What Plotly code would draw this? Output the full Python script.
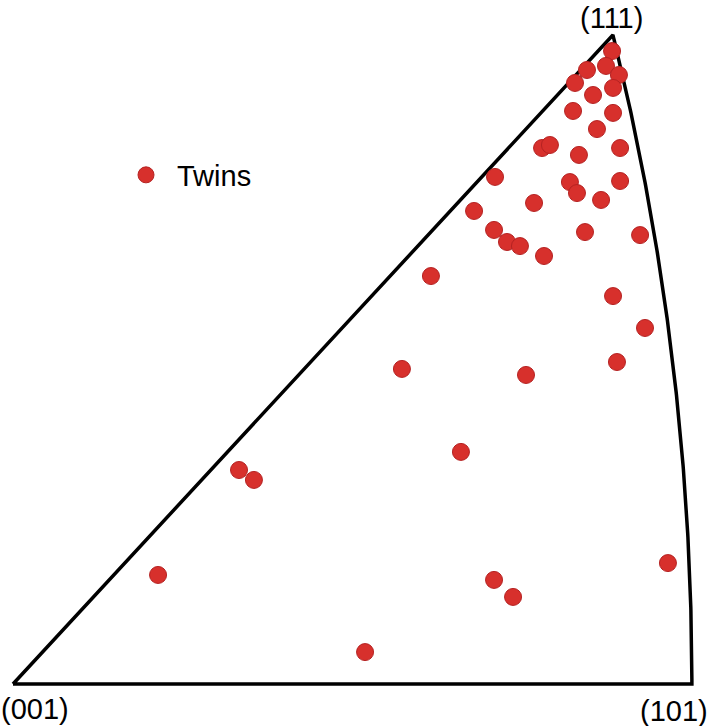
import numpy as np
import plotly.graph_objects as go

# Stereographic projection coordinates (X, Y) of twin orientations
twin_x = [0.3655, 0.3502, 0.3618, 0.3697, 0.3661, 0.3429, 0.3539, 0.3417, 0.3661, 0.3563,
          0.3228, 0.3276, 0.3453, 0.3704, 0.2941, 0.3398, 0.3441, 0.3704, 0.3588, 0.3179,
          0.2813, 0.2935, 0.3014, 0.3093, 0.3490, 0.3826, 0.3240, 0.2550, 0.3661, 0.3856,
          0.2373, 0.3130, 0.3685, 0.2733, 0.1379, 0.1470, 0.0885, 0.2935, 0.3051, 0.3996,
          0.2148]
twin_y = [0.3570, 0.3463, 0.3486, 0.3435, 0.3362, 0.3390, 0.3322, 0.3232, 0.3221, 0.3130,
          0.3023, 0.3040, 0.2984, 0.3023, 0.2860, 0.2831, 0.2769, 0.2837, 0.2730, 0.2713,
          0.2668, 0.2561, 0.2493, 0.2470, 0.2549, 0.2532, 0.2414, 0.2301, 0.2188, 0.2008,
          0.1777, 0.1743, 0.1816, 0.1309, 0.1207, 0.1151, 0.0615, 0.0587, 0.0491, 0.0682,
          0.0180]

pole_labels = ["(001)", "(101)", "(111)"]
pole_dirs = [(0, 0, 1), (1, 0, 1), (1, 1, 1)]


def stereo(v):
    v = np.asarray(v, float)
    v = v / np.linalg.norm(v)
    return v[0] / (1 + v[2]), v[1] / (1 + v[2])


poles = [stereo(d) for d in pole_dirs]

# Triangle boundary: straight lines (001)-(101), (001)-(111), arc (101)-(111) on great circle
t = np.linspace(0, 1, 200)
arc = [stereo((1.0, s, 1.0)) for s in t]
bx = [poles[0][0]] + [p[0] for p in arc] + [poles[0][0]]
by = [poles[0][1]] + [p[1] for p in arc] + [poles[0][1]]

fig = go.Figure()
fig.add_trace(go.Scatter(x=bx, y=by, mode="lines", line=dict(color="black", width=3.5),
                         showlegend=False, hoverinfo="skip"))
fig.add_trace(go.Scatter(x=twin_x, y=twin_y, mode="markers", name="Twins",
                         marker=dict(size=17, color="#d7302c",
                                     line=dict(color="#b52222", width=1))))

shifts = [(22, -25), (-18, -27), (-1, 17)]
for (px, py), lab, (dx, dy) in zip(poles, pole_labels, shifts):
    fig.add_annotation(x=px, y=py, text=lab, showarrow=False, xshift=dx, yshift=dy,
                       font=dict(size=29, color="black", family="Liberation Sans, Arial"))

fig.update_layout(
    width=709, height=726,
    margin=dict(l=0, r=0, t=0, b=0),
    paper_bgcolor="white", plot_bgcolor="white",
    xaxis=dict(range=[-0.00793, 0.42465], visible=False),
    yaxis=dict(range=[-0.02369, 0.38579], visible=False),
    legend=dict(x=115 / 709, y=1 - 175 / 726, xanchor="left", yanchor="middle",
                bgcolor="rgba(0,0,0,0)", itemwidth=52,
                font=dict(size=29, color="black", family="Liberation Sans, Arial")),
    showlegend=True,
)

fig.write_html("out.html", config={"displayModeBar": False},
               post_script="document.body.style.margin='0';document.body.style.overflow='hidden';")
